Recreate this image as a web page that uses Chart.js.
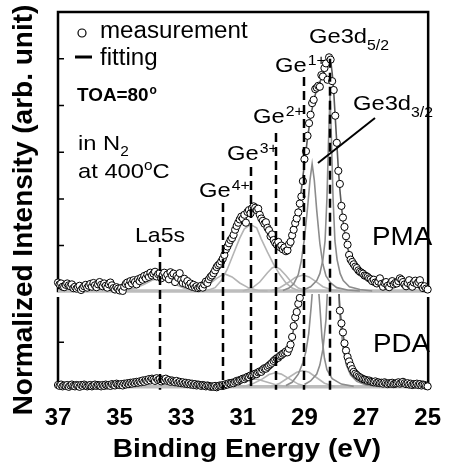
<!DOCTYPE html>
<html>
<head>
<meta charset="utf-8">
<script src="https://cdn.jsdelivr.net/npm/chart.js@4.4.0/dist/chart.umd.min.js"></script>
<style>
  html, body { margin: 0; padding: 0; background: #fff; }
  #wrap { width: 455px; height: 474px; }
</style>
</head>
<body>
<div id="wrap"><canvas id="xpsChart" width="455" height="474"></canvas></div>
<script>
const FONT = 'Arial, "Liberation Sans", sans-serif';

// measurement grid: 37.00 -> 25.00 eV in 0.05 eV steps
const energyStart = 37;
const energyStep = 0.05;

// PMA (upper panel), normalized intensity
const pmaMeasured = [
  .21,.17,.19,.12,.11,.16,.19,.15,.13,.17,.09,.12,.08,.11,.14,.05,.09,.13,.16,.10,
  .14,.18,.12,.20,.15,.11,.17,.22,.16,.13,.19,.14,.10,.17,.21,.15,.09,.06,.11,.08,
  .04,.09,.03,.12,.18,.21,.15,.24,.19,.26,.22,.17,.28,.24,.31,.27,.35,.30,.38,.33,
  .42,.36,.40,.44,.34,.39,.41,.30,.37,.42,.33,.38,.28,.43,.36,.40,.22,.35,.31,.41,
  .26,.20,.29,.18,.24,.15,.19,.12,.16,.10,.13,.09,.11,.14,.10,.17,.23,.20,.28,.33,
  .36,.41,.47,.54,.58,.61,.66,.72,.80,.92,.98,1.05,1.12,1.16,1.23,1.34,1.42,1.49,1.56,1.62,
  1.58,1.66,1.49,1.72,1.76,1.69,1.80,1.84,1.81,1.76,1.79,1.66,1.58,1.53,1.47,1.50,1.38,1.33,1.20,1.24,
  1.12,1.06,1.02,1.08,0.97,1.00,0.92,0.96,0.88,0.90,1.03,1.08,1.22,1.34,1.48,1.58,1.71,1.90,2.05,2.38,
  2.85,3.02,3.35,3.62,3.80,4.05,4.12,4.35,4.38,4.42,4.40,4.65,4.62,4.80,4.90,4.55,5.03,4.98,4.52,4.33,
  3.78,3.20,2.60,2.32,1.85,1.60,1.40,1.20,1.02,0.80,0.70,0.65,0.60,0.55,0.52,0.47,0.44,0.42,0.40,0.36,
  .35,.33,.30,.28,.24,.27,.21,.19,.23,.30,.18,.12,.20,.22,.14,.11,.19,.24,.17,.20,
  .19,.24,.30,.27,.22,.17,.13,.20,.26,.15,.12,.21,.25,.18,.22,.26,.14,.09,.13,.08,.06
];

// PDA (lower panel), normalized intensity
const pdaMeasured = [
  .06,.04,.07,.03,.05,.04,.06,.02,.05,.07,.04,.03,.06,.05,.02,.06,.04,.07,.05,.03,
  .05,.06,.03,.05,.07,.04,.06,.05,.03,.06,.04,.07,.05,.06,.04,.08,.06,.05,.09,.07,
  .06,.08,.05,.09,.07,.10,.08,.11,.09,.12,.10,.13,.11,.14,.12,.16,.13,.17,.15,.19,
  .16,.20,.18,.15,.21,.17,.19,.14,.18,.16,.20,.15,.17,.13,.16,.14,.12,.15,.11,.13,
  .10,.12,.09,.11,.08,.10,.07,.09,.06,.08,.05,.07,.06,.04,.06,.05,.03,.05,.04,.02,
  .03,.02,.04,.01,.03,.05,.04,.06,.05,.08,.07,.10,.09,.11,.10,.13,.15,.14,.17,.18,
  .20,.19,.22,.24,.23,.27,.26,.29,.31,.30,.34,.36,.35,.40,.43,.42,.46,.49,.52,.55,
  .59,.62,.65,.66,.70,.72,.75,.77,.80,.78,.86,.95,1.12,1.36,1.55,1.67,1.85,1.98,2.30,2.80,
  3.30,3.80,4.20,4.60,4.90,5.10,5.20,5.40,5.50,5.60,5.70,5.90,6.00,6.20,6.30,6.40,6.50,6.30,6.00,5.40,
  4.40,3.40,2.30,1.70,1.42,1.22,0.98,0.82,0.68,0.58,0.49,0.41,0.35,0.31,0.28,0.25,0.23,0.21,0.19,0.18,
  .17,.15,.16,.14,.13,.12,.14,.11,.12,.10,.11,.09,.12,.10,.08,.10,.09,.11,.08,.09,
  .10,.12,.09,.11,.13,.10,.08,.10,.07,.09,.06,.08,.07,.09,.06,.08,.05,.07,.06,.04,.03
];

// fitted curves, [binding energy, intensity]
const pmaEnvelope = [[37,0.15],[36,0.14],[35.4,0.14],[35.0,0.13],[34.6,0.18],[34.2,0.29],[33.9,0.36],[33.6,0.37],[33.3,0.31],[33.0,0.21],[32.7,0.14],[32.4,0.14],[32.2,0.21],[32.0,0.34],[31.8,0.52],[31.6,0.78],[31.4,1.08],[31.2,1.36],[31.0,1.56],[30.8,1.7],[30.65,1.76],[30.5,1.72],[30.3,1.55],[30.1,1.3],[29.9,1.08],[29.75,0.97],[29.6,0.94],[29.5,1.0],[29.4,1.15],[29.3,1.4],[29.2,1.75],[29.1,2.2],[29.0,2.75],[28.9,3.3],[28.8,3.75],[28.7,4.1],[28.6,4.35],[28.5,4.5],[28.4,4.65],[28.3,4.85],[28.2,4.98],[28.15,4.97],[28.1,4.7],[28.05,4.3],[28.0,3.75],[27.95,3.2],[27.9,2.65],[27.85,2.2],[27.8,1.85],[27.75,1.55],[27.7,1.3],[27.65,1.1],[27.6,0.95],[27.5,0.75],[27.4,0.6],[27.3,0.5],[27.2,0.42],[27.0,0.33],[26.8,0.26],[26.5,0.2],[26.0,0.18],[25.5,0.17],[25.0,0.15]];
const pmaBackground = [[37,0.03],[25,0.03]];
const pmaLa5s = [[35.2,0.03],[34.8,0.05],[34.5,0.09],[34.2,0.17],[33.95,0.26],[33.7,0.30],[33.45,0.26],[33.2,0.17],[32.9,0.09],[32.6,0.05],[32.2,0.03]];
const pmaGe4 = [[32.7,0.03],[32.4,0.07],[32.1,0.17],[31.85,0.3],[31.6,0.4],[31.35,0.33],[31.1,0.2],[30.8,0.09],[30.5,0.04],[30.2,0.03]];
const pmaGe3 = [[32.2,0.03],[31.9,0.1],[31.7,0.25],[31.5,0.5],[31.3,0.83],[31.1,1.16],[30.95,1.36],[30.75,1.45],[30.55,1.38],[30.4,1.14],[30.2,0.86],[30.0,0.6],[29.8,0.38],[29.6,0.2],[29.4,0.09],[29.2,0.04],[29.0,0.03]];
const pmaGe2 = [[31.0,0.03],[30.7,0.09],[30.45,0.22],[30.2,0.42],[30.05,0.52],[29.95,0.55],[29.8,0.5],[29.6,0.36],[29.4,0.2],[29.2,0.09],[28.9,0.03]];
const pmaGe1 = [[30.1,0.03],[29.8,0.1],[29.5,0.22],[29.3,0.32],[29.05,0.37],[28.85,0.33],[28.6,0.22],[28.4,0.12],[28.1,0.05],[27.8,0.03]];
const pmaGe3d32 = [[29.7,0.04],[29.5,0.09],[29.35,0.18],[29.2,0.38],[29.1,0.68],[29.0,1.15],[28.9,1.8],[28.82,2.4],[28.75,2.75],[28.68,2.4],[28.6,1.75],[28.5,1.05],[28.4,0.6],[28.3,0.35],[28.15,0.2],[27.95,0.1],[27.6,0.05],[27.2,0.03]];
const pmaGe3d52 = [[29.0,0.06],[28.8,0.12],[28.6,0.25],[28.5,0.4],[28.4,0.7],[28.33,1.1],[28.27,2.0],[28.22,3.2],[28.17,4.2],[28.12,3.2],[28.07,2.0],[28.01,1.1],[27.94,0.7],[27.84,0.4],[27.74,0.25],[27.54,0.12],[27.2,0.06],[26.8,0.03]];

const pdaEnvelope = [[37,0.05],[36,0.05],[35.0,0.07],[34.5,0.1],[34.0,0.16],[33.7,0.17],[33.4,0.15],[33.0,0.1],[32.5,0.06],[32.0,0.04],[31.6,0.06],[31.2,0.15],[30.9,0.23],[30.6,0.32],[30.3,0.43],[30.0,0.58],[29.8,0.68],[29.6,0.76],[29.5,0.85],[29.4,1.1],[29.3,1.52],[29.2,1.85],[29.1,2.3],[29.0,3.2],[28.8,4.6],[28.5,5.6],[28.2,6.3],[28.0,4.5],[27.9,2.4],[27.85,1.72],[27.8,1.45],[27.75,1.2],[27.7,0.98],[27.6,0.7],[27.5,0.5],[27.4,0.36],[27.3,0.28],[27.1,0.2],[26.8,0.15],[26.4,0.12],[26.0,0.1],[25.5,0.08],[25.0,0.05]];
const pdaBackground = [[37,0.02],[25,0.02]];
const pdaLa5s = [[35.0,0.02],[34.6,0.05],[34.3,0.09],[34.0,0.13],[33.7,0.15],[33.4,0.13],[33.1,0.09],[32.8,0.05],[32.4,0.02]];
const pdaGe4 = [[32.5,0.02],[32.1,0.05],[31.8,0.08],[31.6,0.09],[31.4,0.08],[31.1,0.05],[30.7,0.02]];
const pdaGe3 = [[32.0,0.02],[31.6,0.06],[31.3,0.12],[31.0,0.18],[30.75,0.2],[30.5,0.18],[30.2,0.12],[29.9,0.06],[29.5,0.02]];
const pdaGe2 = [[31.0,0.02],[30.7,0.08],[30.4,0.18],[30.15,0.29],[29.95,0.33],[29.75,0.3],[29.5,0.2],[29.2,0.08],[28.9,0.02]];
const pdaGe1 = [[30.1,0.02],[29.8,0.1],[29.5,0.23],[29.25,0.34],[29.05,0.38],[28.85,0.34],[28.6,0.22],[28.35,0.1],[28.0,0.02]];
const pdaGe3d32 = [[29.6,0.05],[29.4,0.12],[29.2,0.3],[29.05,0.55],[28.95,0.8],[28.86,1.2],[28.78,1.8],[28.7,2.5],[28.64,2.9],[28.58,2.5],[28.5,1.8],[28.43,1.1],[28.35,0.65],[28.27,0.4],[28.1,0.2],[27.8,0.08],[27.4,0.03]];
const pdaGe3d52 = [[29.0,0.07],[28.8,0.15],[28.6,0.3],[28.5,0.5],[28.4,0.85],[28.3,1.5],[28.22,2.6],[28.14,3.8],[28.07,4.4],[28.0,3.8],[27.92,2.6],[27.84,1.5],[27.74,0.85],[27.64,0.5],[27.5,0.28],[27.3,0.14],[27.0,0.06],[26.6,0.03]];

// peak assignments: dashed-line energy and where it starts (upper panel units)
const peakEnergies = [33.7, 31.63, 30.75, 29.93, 29.03, 28.17];
const peakLineTops = [0.95, 1.91, 2.68, 3.41, 4.61, 5.0];

const xTicks = [37, 35, 33, 31, 29, 27, 25];
const pmaYTicks = [1, 2, 3, 4, 5];
const pdaYTicks = [1];

const energies = pmaMeasured.map((v, i) => +(energyStart - i * energyStep).toFixed(2));

function toPoints(pairs) {
    return pairs.map(p => ({x: p[0], y: p[1]}));
}

function fitLine(pairs, axis, color, width, order) {
    return {
        data: toPoints(pairs),
        yAxisID: axis,
        borderColor: color,
        borderWidth: width,
        pointRadius: 0,
        tension: 0,
        fill: false,
        order: order,
        clip: 8,
    };
}

function measured(values, axis) {
    return {
        data: values.map((v, i) => ({x: energies[i], y: v})),
        yAxisID: axis,
        showLine: false,
        pointRadius: 3.6,
        pointBorderWidth: 1,
        pointBackgroundColor: '#fff',
        pointBorderColor: '#000',
        order: 0,
        clip: 8,
    };
}

const DARK = '#5a5a5a', MID = '#8c8c8c', LIGHT = '#b4b4b4', BASE = '#bdbdbd';

const datasets = [
    measured(pmaMeasured, 'yUp'),
    measured(pdaMeasured, 'yLow'),
    fitLine(pmaEnvelope, 'yUp', DARK, 1.6, 1),
    fitLine(pdaEnvelope, 'yLow', DARK, 1.6, 1),
    fitLine(pmaGe3d52, 'yUp', MID, 1.6, 2),
    fitLine(pmaGe3d32, 'yUp', MID, 1.6, 2),
    fitLine(pdaGe3d52, 'yLow', MID, 1.6, 2),
    fitLine(pdaGe3d32, 'yLow', MID, 1.6, 2),
    fitLine(pmaGe1, 'yUp', LIGHT, 1.6, 3),
    fitLine(pmaGe2, 'yUp', LIGHT, 1.6, 3),
    fitLine(pmaGe3, 'yUp', LIGHT, 1.6, 3),
    fitLine(pmaGe4, 'yUp', LIGHT, 1.6, 3),
    fitLine(pmaLa5s, 'yUp', LIGHT, 1.6, 3),
    fitLine(pdaGe1, 'yLow', LIGHT, 1.6, 3),
    fitLine(pdaGe2, 'yLow', LIGHT, 1.6, 3),
    fitLine(pdaGe3, 'yLow', LIGHT, 1.6, 3),
    fitLine(pdaGe4, 'yLow', LIGHT, 1.6, 3),
    fitLine(pdaLa5s, 'yLow', LIGHT, 1.6, 3),
    fitLine(pmaBackground, 'yUp', BASE, 3.5, 4),
    fitLine(pdaBackground, 'yLow', BASE, 3.5, 4),
];

function drawText(ctx, str, x, y, size, opts = {}) {
    const sx = opts.sx || 1;
    ctx.save();
    ctx.font = (opts.bold ? 'bold ' : '') + size + 'px ' + FONT;
    ctx.fillStyle = '#000';
    ctx.textBaseline = 'alphabetic';
    ctx.textAlign = opts.align || 'left';
    ctx.translate(x, y);
    if (opts.rotate) ctx.rotate(opts.rotate);
    ctx.scale(sx, 1);
    ctx.fillText(str, 0, 0);
    const w = ctx.measureText(str).width * sx;
    ctx.restore();
    return x + w;
}

// keep each panel's marks inside its own panel
const panelClip = {
    id: 'panelClip',
    beforeDatasetDraw(chart, args) {
        const ys = chart.scales[args.meta.yAxisID];
        const {ctx, chartArea} = chart;
        const top = ys.id === 'yUp' ? ys.top - 10 : ys.top - 3;
        const bottom = ys.id === 'yUp' ? ys.bottom : ys.bottom + 10;
        ctx.save();
        ctx.beginPath();
        ctx.rect(chartArea.left - 10, top, chartArea.width + 20, bottom - top);
        ctx.clip();
    },
    afterDatasetDraw(chart) {
        chart.ctx.restore();
    }
};

// panel frames and inward tick marks
const frames = {
    id: 'frames',
    beforeDatasetsDraw(chart) {
        const {ctx, chartArea} = chart;
        const yUp = chart.scales.yUp, yLow = chart.scales.yLow;
        const L = chartArea.left, R = chartArea.right + 0.5;
        const upBottom = yUp.getPixelForValue(0);
        const lowBottom = yLow.getPixelForValue(0) - 1;
        ctx.save();
        ctx.strokeStyle = '#000';
        ctx.lineWidth = 2.5;
        ctx.beginPath();
        ctx.moveTo(L, upBottom); ctx.lineTo(L, chartArea.top); ctx.lineTo(R, chartArea.top); ctx.lineTo(R, upBottom);
        ctx.moveTo(L, yLow.top); ctx.lineTo(L, lowBottom);
        ctx.moveTo(R, yLow.top); ctx.lineTo(R, lowBottom);
        ctx.stroke();
        ctx.lineWidth = 1.5;
        ctx.beginPath();
        pmaYTicks.forEach(v => { const p = yUp.getPixelForValue(v); ctx.moveTo(L, p); ctx.lineTo(L + 6, p); });
        pdaYTicks.forEach(v => { const p = yLow.getPixelForValue(v); ctx.moveTo(L, p); ctx.lineTo(L + 6, p); });
        ctx.stroke();
        ctx.restore();
    }
};

const annotations = {
    id: 'annotations',
    afterDatasetsDraw(chart) {
        const {ctx} = chart;
        const xs = chart.scales.x, yUp = chart.scales.yUp, yLow = chart.scales.yLow;

        // dashed peak positions
        ctx.save();
        ctx.strokeStyle = '#000';
        ctx.lineWidth = 2.5;
        ctx.setLineDash([9, 5]);
        const bottom = yLow.getPixelForValue(0) + 2;
        peakEnergies.forEach((e, i) => {
            const px = Math.round(xs.getPixelForValue(e));
            ctx.beginPath();
            ctx.moveTo(px, yUp.getPixelForValue(peakLineTops[i]));
            ctx.lineTo(px, bottom);
            ctx.stroke();
        });
        ctx.setLineDash([]);
        // pointer to Ge3d3/2
        ctx.lineWidth = 2;
        ctx.beginPath();
        ctx.moveTo(375, 118);
        ctx.lineTo(318, 163);
        ctx.stroke();

        // legend
        ctx.lineWidth = 1.2;
        ctx.fillStyle = '#fff';
        ctx.beginPath();
        ctx.arc(82, 33, 4, 0, Math.PI * 2);
        ctx.fill();
        ctx.stroke();
        ctx.lineWidth = 3;
        ctx.beginPath();
        ctx.moveTo(75, 57);
        ctx.lineTo(92, 57);
        ctx.stroke();
        ctx.restore();

        drawText(ctx, 'measurement', 100, 38, 23, {sx: 1.05});
        drawText(ctx, 'fitting', 100, 65, 23, {sx: 1.05});
        let x = drawText(ctx, 'TOA=80', 77, 101, 18, {bold: true, sx: 1.05});
        drawText(ctx, 'o', x + 1, 94, 12, {bold: true});

        x = drawText(ctx, 'in N', 78, 150, 21, {sx: 1.13});
        drawText(ctx, '2', x, 156, 14, {sx: 1.1});
        x = drawText(ctx, 'at 400', 78, 178, 21, {sx: 1.13});
        x = drawText(ctx, 'o', x, 170, 14, {sx: 1.1});
        drawText(ctx, 'C', x, 178, 21, {sx: 1.13});

        x = drawText(ctx, 'Ge3d', 309, 43, 21, {sx: 1.13});
        drawText(ctx, '5/2', x, 50, 14, {sx: 1.13});
        x = drawText(ctx, 'Ge3d', 353, 110, 21, {sx: 1.13});
        drawText(ctx, '3/2', x, 117, 14, {sx: 1.13});

        const ions = [['1+', 275, 72], ['2+', 253, 123], ['3+', 227, 160], ['4+', 199, 197]];
        ions.forEach(([sup, gx, gy]) => {
            const end = drawText(ctx, 'Ge', gx, gy, 21, {sx: 1.13});
            drawText(ctx, sup, end + 1, gy - 7, 14, {sx: 1.13});
        });

        drawText(ctx, 'La5s', 135, 242, 21, {sx: 1.1});
        drawText(ctx, 'PMA', 372, 245, 25, {sx: 1.11});
        drawText(ctx, 'PDA', 373, 352, 25, {sx: 1.11});

        // axis titles
        drawText(ctx, 'Binding Energy (eV)', (chart.chartArea.left + chart.chartArea.right) / 2 + 4, 457, 26,
            {bold: true, sx: 1.08, align: 'center'});
        drawText(ctx, 'Normalized Intensity (arb. unit)', 32, 210, 28,
            {bold: true, align: 'center', rotate: -Math.PI / 2});
    }
};

const hiddenY = {
    type: 'linear',
    position: 'left',
    stack: 'panels',
    grid: {display: false, drawTicks: false},
    border: {display: false},
    ticks: {display: false},
    afterFit: s => { s.width = 58; },
};

const config = {
    type: 'line',
    data: {datasets: datasets},
    options: {
        responsive: false,
        animation: false,
        devicePixelRatio: 1,
        layout: {padding: {top: 12, right: 18, left: 0, bottom: 0}},
        plugins: {legend: {display: false}, tooltip: {enabled: false}},
        scales: {
            x: {
                type: 'linear',
                min: 25,
                max: 37,
                reverse: true,
                grid: {display: false, drawTicks: false},
                border: {display: false},
                ticks: {
                    color: '#000',
                    font: {family: FONT, size: 24, weight: 'bold'},
                    padding: 14,
                    maxRotation: 0,
                },
                afterBuildTicks: s => { s.ticks = xTicks.map(v => ({value: v})); },
                afterFit: s => { s.height = 84; },
            },
            // lower panel listed first: stacked left axes are laid out bottom-up
            yLow: Object.assign({}, hiddenY, {stackWeight: 93, min: -0.05, max: 2}),
            yUp: Object.assign({}, hiddenY, {stackWeight: 285, min: -0.1, max: 6}),
        },
    },
    plugins: [panelClip, frames, annotations],
};

const xpsChart = new Chart(document.getElementById('xpsChart'), config);
</script>
</body>
</html>
